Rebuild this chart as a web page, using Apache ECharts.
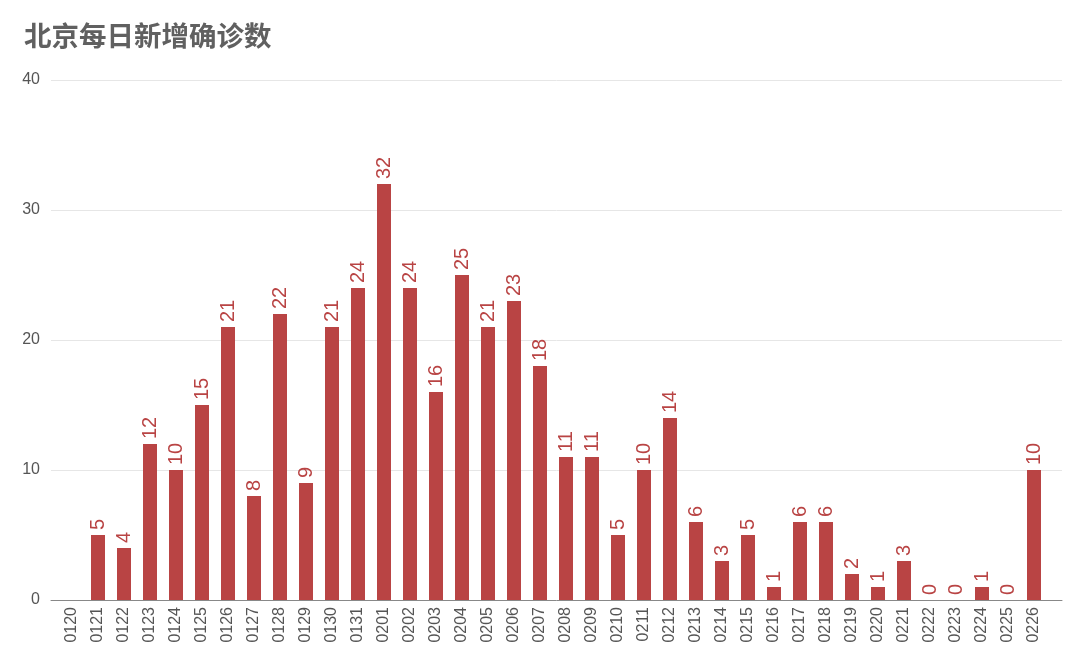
<!DOCTYPE html>
<html>
<head>
<meta charset="utf-8">
<script src="https://cdn.jsdelivr.net/npm/echarts@6/dist/echarts.min.js"></script>
<style>
  html, body { margin: 0; padding: 0; background: #fff; }
</style>
</head>
<body>
<div id="main" style="width:1080px;height:659px"></div>
<script>
// 日期
var days = ['0120','0121','0122','0123','0124','0125','0126','0127','0128','0129',
            '0130','0131','0201','0202','0203','0204','0205','0206','0207','0208',
            '0209','0210','0211','0212','0213','0214','0215','0216','0217','0218',
            '0219','0220','0221','0222','0223','0224','0225','0226'];
// 每日新增确诊
var newCases = ['-',5,4,12,10,15,21,8,22,9,
                21,24,32,24,16,25,21,23,18,11,
                11,5,10,14,6,3,5,1,6,6,
                2,1,3,0,0,1,0,10];
var yTicks = { min: 0, max: 40, interval: 10 };

var myChart = echarts.init(document.getElementById('main'));
var gray = '#555';
var red = '#b94444';

var option = {
  animation: false,
  title: {
    text: '北京每日新增确诊数',
    left: 19,
    top: 17,
    textStyle: {
      fontSize: 27.5,
      fontWeight: 'bold',
      color: '#606060',
      fontFamily: 'Noto Sans CJK SC'
    }
  },
  // grid 0: 柱子; grid 1: 网格线和坐标轴
  grid: [
    { left: 59, right: 33, top: 80, bottom: 59 },
    { left: 51, right: 18, top: 80, bottom: 59 }
  ],
  xAxis: [{
    gridIndex: 0,
    type: 'category',
    data: days,
    axisLine: { show: false },
    axisTick: { show: false },
    axisLabel: {
      rotate: 90,
      interval: 0,
      margin: 7,
      color: gray,
      fontSize: 16,
      fontFamily: 'Liberation Sans'
    }
  }, {
    gridIndex: 1,
    type: 'category',
    data: [''],
    axisLine: { show: true, lineStyle: { color: '#888', width: 1 } },
    axisTick: { show: false },
    axisLabel: { show: false }
  }],
  yAxis: [{
    gridIndex: 0,
    type: 'value',
    min: yTicks.min, max: yTicks.max, interval: yTicks.interval,
    show: false
  }, {
    gridIndex: 1,
    type: 'value',
    min: yTicks.min, max: yTicks.max, interval: yTicks.interval,
    axisLine: { show: false },
    axisTick: { show: false },
    axisLabel: {
      margin: 11,
      color: gray,
      fontSize: 16,
      fontFamily: 'Liberation Sans'
    },
    splitLine: {
      show: true,
      lineStyle: { color: '#e6e6e6', type: 'solid', width: 1 }
    }
  }],
  series: [{
    type: 'bar',
    xAxisIndex: 0,
    yAxisIndex: 0,
    data: newCases,
    barWidth: 14,
    z: 3,
    itemStyle: { color: red },
    label: {
      show: true,
      position: 'top',
      rotate: 90,
      align: 'left',
      verticalAlign: 'middle',
      distance: 5,
      color: red,
      fontSize: 20,
      fontFamily: 'Liberation Sans'
    }
  }]
};
myChart.setOption(option);
</script>
</body>
</html>
